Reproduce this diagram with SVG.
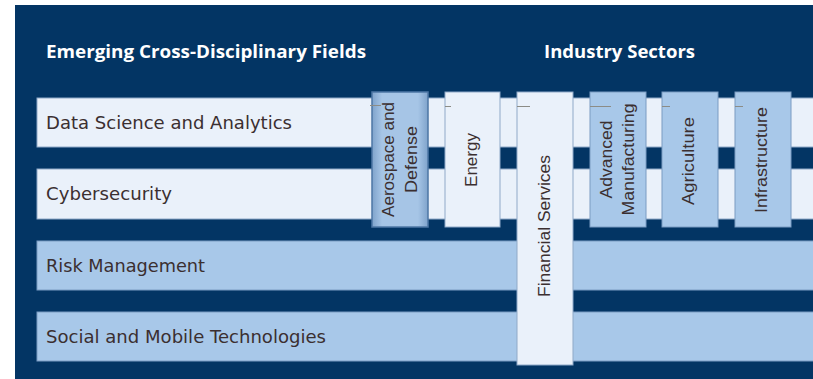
<svg xmlns="http://www.w3.org/2000/svg" width="813" height="379" viewBox="0 0 813 379">
  <defs>
    <linearGradient id="hl" x1="0" y1="0" x2="1" y2="0">
      <stop offset="0" stop-color="#7FA3CB"/>
      <stop offset="0.18" stop-color="#A6C5E6"/>
      <stop offset="0.82" stop-color="#A6C5E6"/>
      <stop offset="1" stop-color="#7FA3CB"/>
    </linearGradient>
    <style>
      .bg { fill: #033564; }
      .light { fill: #EAF1FA; stroke: #8FA9C8; stroke-width: 1; }
      .blue { fill: #A8C8E9; stroke: #7B9CC2; stroke-width: 1; }
      .hl { fill: url(#hl); stroke: #4E77A5; stroke-width: 1.5; }
      .head { font-family: "Open Sans", "Liberation Sans", sans-serif; font-weight: bold; font-size: 17px; fill: #FFFFFF; }
      .row { font-family: "DejaVu Sans", "Liberation Sans", sans-serif; font-size: 17px; fill: #3B2F30; }
      .col { font-family: "Liberation Sans", "Open Sans", sans-serif; font-size: 16px; fill: #3B2F30; text-anchor: middle; }
      .tick { stroke: #8C8C86; stroke-width: 1; fill: none; }
    </style>
  </defs>

  <rect class="bg" x="15" y="5" width="798" height="374"/>

  <g id="headers">
    <text class="head" x="46" y="58" textLength="320" lengthAdjust="spacingAndGlyphs">Emerging Cross-Disciplinary Fields</text>
    <text class="head" x="544" y="58" textLength="151" lengthAdjust="spacingAndGlyphs">Industry Sectors</text>
  </g>

  <g id="field-data-science">
    <rect class="light" x="37" y="98" width="780" height="49"/>
    <text class="row" x="46" y="129" textLength="246" lengthAdjust="spacingAndGlyphs">Data Science and Analytics</text>
  </g>
  <g id="field-cybersecurity">
    <rect class="light" x="37" y="169" width="780" height="50"/>
    <text class="row" x="46" y="200" textLength="126" lengthAdjust="spacingAndGlyphs">Cybersecurity</text>
  </g>
  <g id="field-risk">
    <rect class="blue" x="37" y="241" width="780" height="49"/>
    <text class="row" x="46" y="272" textLength="159" lengthAdjust="spacingAndGlyphs">Risk Management</text>
  </g>
  <g id="field-social">
    <rect class="blue" x="37" y="312" width="780" height="49"/>
    <text class="row" x="46" y="343" textLength="280" lengthAdjust="spacingAndGlyphs">Social and Mobile Technologies</text>
  </g>

  <g id="sector-aerospace">
    <rect class="hl" x="372" y="92" width="56" height="135"/>
    <g transform="translate(400,159.5) rotate(-90)">
      <text class="col" x="0" y="-6" textLength="115" lengthAdjust="spacingAndGlyphs">Aerospace and</text>
      <text class="col" x="0" y="17" textLength="67" lengthAdjust="spacingAndGlyphs">Defense</text>
    </g>
  </g>
  <g id="sector-energy">
    <rect class="light" x="445" y="92" width="55" height="135"/>
    <text class="col" transform="translate(472.5,160) rotate(-90)" x="0" y="4" textLength="54" lengthAdjust="spacingAndGlyphs">Energy</text>
  </g>
  <g id="sector-financial">
    <rect class="light" x="517" y="92" width="56" height="273"/>
    <text class="col" transform="translate(545,226) rotate(-90)" x="0" y="5" textLength="142" lengthAdjust="spacingAndGlyphs">Financial Services</text>
  </g>
  <g id="sector-advanced-manufacturing">
    <rect class="blue" x="590" y="92" width="56" height="135"/>
    <g transform="translate(618,159.5) rotate(-90)">
      <text class="col" x="0" y="-6" textLength="78" lengthAdjust="spacingAndGlyphs">Advanced</text>
      <text class="col" x="0" y="16" textLength="112" lengthAdjust="spacingAndGlyphs">Manufacturing</text>
    </g>
  </g>
  <g id="sector-agriculture">
    <rect class="blue" x="662" y="92" width="56" height="135"/>
    <text class="col" transform="translate(690,161) rotate(-90)" x="0" y="4" textLength="88" lengthAdjust="spacingAndGlyphs">Agriculture</text>
  </g>
  <g id="sector-infrastructure">
    <rect class="blue" x="735" y="92" width="56" height="135"/>
    <text class="col" transform="translate(763,160) rotate(-90)" x="0" y="4" textLength="106" lengthAdjust="spacingAndGlyphs">Infrastructure</text>
  </g>

  <g id="connectors">
    <line class="tick" x1="370" y1="105.5" x2="381" y2="105.5"/>
    <line class="tick" x1="445" y1="106.5" x2="451" y2="106.5"/>
    <line class="tick" x1="517" y1="106.5" x2="530" y2="106.5"/>
    <line class="tick" x1="590" y1="106.5" x2="611" y2="106.5"/>
    <line class="tick" x1="662" y1="106.5" x2="670" y2="106.5"/>
    <line class="tick" x1="735" y1="106.5" x2="743" y2="106.5"/>
  </g>
</svg>
